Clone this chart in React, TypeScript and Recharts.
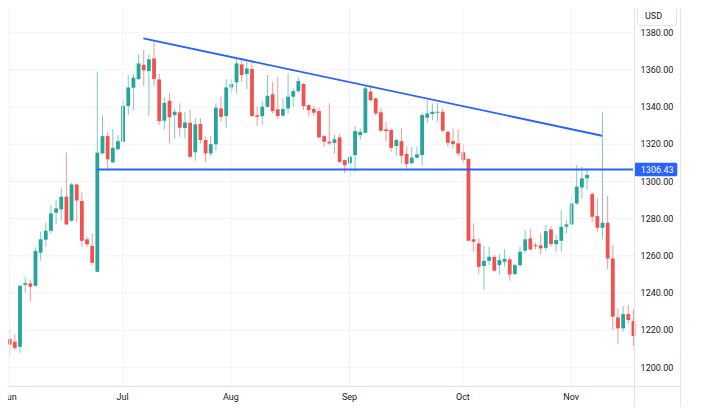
import React from 'react';
import { ComposedChart, Bar, XAxis, YAxis, CartesianGrid, ReferenceLine } from 'recharts';

const open = [
  1215.2, 1213.8, 1211.1, 1244.4, 1245.2, 1243.9, 1261.7, 1268.7, 1273.5, 1283.2,
  1285.0, 1291.8, 1278.9, 1298.4, 1289.5, 1268.9, 1265.3, 1251.4, 1315.1, 1324.4,
  1310.3, 1317.3, 1321.4, 1340.6, 1350.4, 1355.1, 1362.8, 1359.4, 1366.2, 1354.9,
  1332.7, 1343.4, 1335.7, 1337.2, 1328.7, 1331.6, 1315.7, 1330.9, 1322.3, 1315.1,
  1320.0, 1339.3, 1335.2, 1350.6, 1353.3, 1363.0, 1357.8, 1360.5, 1335.6, 1335.2,
  1340.2, 1346.9, 1338.8, 1335.4, 1339.3, 1345.6, 1348.6, 1352.4, 1341.1, 1339.0,
  1337.9, 1324.4, 1321.4, 1320.8, 1323.7, 1311.5, 1309.8, 1314.2, 1325.0, 1326.2,
  1348.3, 1344.7, 1337.2, 1328.0, 1327.7, 1319.1, 1321.7, 1314.8, 1309.8, 1312.8,
  1314.2, 1334.3, 1336.3, 1337.2, 1337.5, 1326.7, 1321.7, 1320.5, 1315.7, 1312.2,
  1268.9, 1266.7, 1254.5, 1257.3, 1259.4, 1255.0, 1256.8, 1258.1, 1250.2, 1255.0,
  1262.8, 1269.4, 1265.8, 1265.6, 1264.3, 1274.2, 1266.3, 1268.1, 1275.7, 1276.9,
  1288.2, 1296.8, 1301.7, 1293.2, 1281.4, 1275.1, 1277.8, 1258.6, 1226.9, 1221.0,
  1228.7, 1224.9,
];
const high = [
  1220.6, 1217.8, 1244.3, 1248.7, 1247.0, 1264.6, 1273.0, 1278.0, 1287.3, 1290.0,
  1296.8, 1315.7, 1299.3, 1298.5, 1294.1, 1270.3, 1272.1, 1359.0, 1335.4, 1326.7,
  1328.2, 1325.0, 1344.2, 1357.2, 1357.8, 1368.4, 1370.7, 1368.4, 1375.5, 1357.8,
  1345.2, 1347.4, 1339.3, 1342.0, 1337.5, 1338.4, 1334.0, 1334.0, 1324.1, 1324.4,
  1342.0, 1345.6, 1354.9, 1355.1, 1366.8, 1366.2, 1364.4, 1364.4, 1340.2, 1343.3,
  1357.2, 1353.6, 1356.3, 1344.7, 1358.2, 1350.1, 1356.0, 1353.1, 1341.6, 1340.6,
  1339.9, 1325.0, 1342.0, 1325.0, 1325.5, 1311.9, 1314.6, 1329.8, 1328.6, 1351.9,
  1351.9, 1345.2, 1339.3, 1332.1, 1328.6, 1323.2, 1328.6, 1318.7, 1318.7, 1318.7,
  1337.0, 1343.8, 1342.0, 1342.0, 1339.3, 1327.3, 1328.6, 1328.0, 1320.0, 1312.2,
  1277.5, 1269.4, 1265.4, 1264.9, 1260.5, 1260.7, 1263.7, 1259.5, 1256.0, 1264.9,
  1273.9, 1274.8, 1267.0, 1272.1, 1276.6, 1276.0, 1271.2, 1284.6, 1279.2, 1292.2,
  1308.8, 1307.9, 1307.1, 1294.5, 1290.9, 1337.2, 1292.2, 1265.8, 1231.7, 1233.0,
  1233.5, 1231.2,
];
const low = [
  1206.6, 1209.3, 1207.9, 1240.1, 1235.3, 1243.4, 1257.4, 1264.9, 1272.0, 1277.0,
  1278.9, 1276.5, 1278.3, 1278.3, 1264.9, 1264.7, 1254.7, 1251.4, 1314.8, 1306.1,
  1309.8, 1316.9, 1321.0, 1335.7, 1338.4, 1354.6, 1351.3, 1335.4, 1351.3, 1330.4,
  1328.0, 1320.5, 1323.2, 1324.1, 1323.2, 1312.4, 1311.1, 1320.5, 1310.6, 1313.8,
  1316.5, 1332.1, 1328.9, 1347.4, 1347.4, 1353.6, 1349.6, 1334.8, 1330.0, 1330.4,
  1339.7, 1336.6, 1333.6, 1334.8, 1336.6, 1340.2, 1347.4, 1338.4, 1334.8, 1335.2,
  1323.5, 1318.7, 1319.6, 1315.1, 1309.8, 1304.4, 1302.9, 1305.2, 1322.3, 1325.9,
  1342.9, 1335.7, 1326.7, 1321.4, 1316.0, 1313.8, 1309.4, 1306.7, 1309.2, 1312.0,
  1308.5, 1331.6, 1333.0, 1332.1, 1326.7, 1318.7, 1317.8, 1313.3, 1309.8, 1268.1,
  1262.2, 1250.2, 1241.9, 1255.0, 1251.4, 1250.0, 1254.1, 1246.6, 1249.7, 1254.1,
  1261.3, 1262.7, 1263.5, 1261.0, 1262.7, 1264.9, 1262.2, 1262.2, 1272.1, 1276.6,
  1287.3, 1290.9, 1295.4, 1278.3, 1273.0, 1268.9, 1252.7, 1220.1, 1212.5, 1219.2,
  1223.7, 1211.5,
];
const close = [
  1212.3, 1210.5, 1243.9, 1245.3, 1243.4, 1262.6, 1268.9, 1273.5, 1282.8, 1285.5,
  1291.8, 1276.9, 1298.4, 1289.8, 1268.1, 1266.2, 1256.3, 1315.5, 1324.4, 1311.9,
  1318.1, 1321.7, 1340.6, 1350.6, 1355.8, 1363.5, 1359.8, 1365.7, 1355.1, 1332.5,
  1342.3, 1334.5, 1337.5, 1328.9, 1331.8, 1313.3, 1330.7, 1322.3, 1315.1, 1320.1,
  1339.7, 1334.8, 1350.6, 1352.4, 1363.5, 1357.2, 1360.8, 1335.2, 1334.8, 1340.2,
  1346.1, 1337.9, 1335.2, 1339.0, 1345.6, 1348.6, 1354.0, 1340.6, 1338.4, 1337.0,
  1323.7, 1321.4, 1320.5, 1322.7, 1310.6, 1308.8, 1313.3, 1327.1, 1326.7, 1350.1,
  1343.8, 1336.6, 1327.3, 1327.1, 1318.1, 1322.3, 1313.8, 1309.4, 1312.8, 1314.6,
  1335.7, 1336.6, 1337.5, 1337.5, 1327.3, 1320.8, 1320.1, 1315.1, 1311.5, 1268.1,
  1267.6, 1254.1, 1257.3, 1259.5, 1252.0, 1257.7, 1258.4, 1250.0, 1255.0, 1262.2,
  1268.9, 1263.5, 1265.3, 1264.0, 1273.3, 1266.3, 1268.5, 1275.6, 1276.9, 1288.2,
  1297.2, 1301.7, 1303.5, 1281.0, 1275.1, 1277.8, 1258.6, 1227.3, 1221.0, 1228.7,
  1225.5, 1216.9,
];

const days = open.map((_, i) => i);
const monthTickIndex = [0, 22, 43, 66, 88, 109];
const monthLabels = ['Jun', 'Jul', 'Aug', 'Sep', 'Oct', 'Nov'];
const priceTicks = [1200, 1220, 1240, 1260, 1280, 1300, 1320, 1340, 1360, 1380];
const resistanceLine = [
  { day: 26, price: 1377.0 },
  { day: 115, price: 1324.6 },
];
const supportPrice = 1306.43;
const supportStartDay = 17;
const currency = 'USD';

const data = days.map((d, i) => ({
  day: d,
  open: open[i],
  high: high[i],
  low: low[i],
  close: close[i],
  range: [low[i], high[i]],
}));

const UP = '#26a69a';
const DOWN = '#ef5350';
const BLUE = '#2962FF';
const GRID = '#f0f3fa';
const TEXT = '#131722';
const FONT = 'Roboto, "Liberation Sans", Arial, sans-serif';

const Candle = (props: any) => {
  const { x, y, width, height, payload } = props;
  if (!payload || x == null || y == null) return null;
  const { open: o, close: c, high: h, low: l } = payload;
  const top = Math.min(y, y + height);
  const span = Math.abs(height);
  const ppu = h - l > 0 ? span / (h - l) : 0;
  const py = (p: number) => top + (h - p) * ppu;
  const up = c >= o;
  const color = up ? UP : DOWN;
  const cx = x + width / 2;
  const bTop = py(Math.max(o, c));
  const bBot = py(Math.min(o, c));
  const bh = Math.max(1, bBot - bTop);
  return (
    <g>
      <line x1={cx} x2={cx} y1={top} y2={top + span} stroke={color} strokeOpacity={0.6} strokeWidth={1} />
      <rect x={cx - 1.9} y={bTop} width={3.8} height={bh} fill={color} />
    </g>
  );
};

const PriceTag = (props: any) => {
  const vb = props.viewBox || {};
  const right = (vb.x || 0) + (vb.width || 0);
  const cy = vb.y || 0;
  return (
    <g>
      <rect x={right - 1.3} y={cy - 6.7} width={43} height={13.4} rx={1.5} fill={BLUE} />
      <text x={right + 5.2} y={cy} dy="0.35em" fill="#ffffff" fontSize={9} fontFamily={FONT}>
        {supportPrice.toFixed(2)}
      </text>
    </g>
  );
};

export default function App() {
  return (
    <div style={{ position: 'relative', width: 701, height: 414, margin: -8, background: '#fff', overflow: 'hidden' }}>
      <div style={{ position: 'absolute', left: 7, top: 3, width: 674, height: 406, overflow: 'hidden' }}>
        <div style={{ position: 'absolute', left: -7, top: -3 }}>
          <ComposedChart
            width={701}
            height={414}
            data={data}
            margin={{ top: 3, right: 19.4, bottom: 6, left: 6.7 }}
          >
            <CartesianGrid vertical={false} stroke={GRID} strokeWidth={1} />
            {monthTickIndex.map((d) => (
              <ReferenceLine key={'m' + d} x={d} stroke={GRID} strokeWidth={1} />
            ))}
            <XAxis
              dataKey="day"
              type="category"
              ticks={monthTickIndex}
              interval={0}
              tickFormatter={(v: any) => monthLabels[monthTickIndex.indexOf(Number(v))] ?? ''}
              axisLine={false}
              tickLine={false}
              tickSize={0}
              tickMargin={8}
              height={22}
              tick={{ fontSize: 9, fill: TEXT, fontFamily: FONT }}
            />
            <YAxis
              orientation="right"
              domain={[1190, 1396]}
              allowDataOverflow
              ticks={priceTicks}
              tickFormatter={(v: number) => v.toFixed(2)}
              axisLine={false}
              tickLine={false}
              tickSize={0}
              tickMargin={5}
              width={46}
              tick={{ fontSize: 9, fill: TEXT, fontFamily: FONT, textAnchor: 'start' }}
            />
            <Bar dataKey="range" barSize={4} shape={<Candle />} isAnimationActive={false} />
            <ReferenceLine
              segment={[
                { x: resistanceLine[0].day, y: resistanceLine[0].price },
                { x: resistanceLine[1].day, y: resistanceLine[1].price },
              ]}
              stroke={BLUE}
              strokeWidth={1.8}
              ifOverflow="visible"
            />
            <ReferenceLine
              segment={[
                { x: supportStartDay, y: supportPrice },
                { x: days[days.length - 1], y: supportPrice },
              ]}
              stroke={BLUE}
              strokeWidth={2}
              ifOverflow="visible"
            />
            <ReferenceLine y={supportPrice} stroke="none" strokeWidth={0} ifOverflow="visible" label={<PriceTag />} />
          </ComposedChart>
        </div>
      </div>
      <div style={{ position: 'absolute', left: 7, top: 3, width: 674, height: 406, border: '1px solid #e0e3eb', boxSizing: 'border-box', pointerEvents: 'none' }} />
      <div style={{ position: 'absolute', left: 634, top: 3, width: 1, height: 406, background: '#e0e3eb' }} />
      <div style={{ position: 'absolute', left: 7, top: 386, width: 674, height: 1, background: '#e0e3eb' }} />
      <div
        style={{
          position: 'absolute', left: 637, top: 6.5, width: 40, height: 19, border: '1px solid #e0e3eb',
          borderRadius: 3, boxSizing: 'border-box', background: '#fff', fontFamily: FONT, fontSize: 9,
          color: TEXT, lineHeight: '17px', paddingLeft: 7,
        }}
      >
        {currency}
      </div>
    </div>
  );
}
